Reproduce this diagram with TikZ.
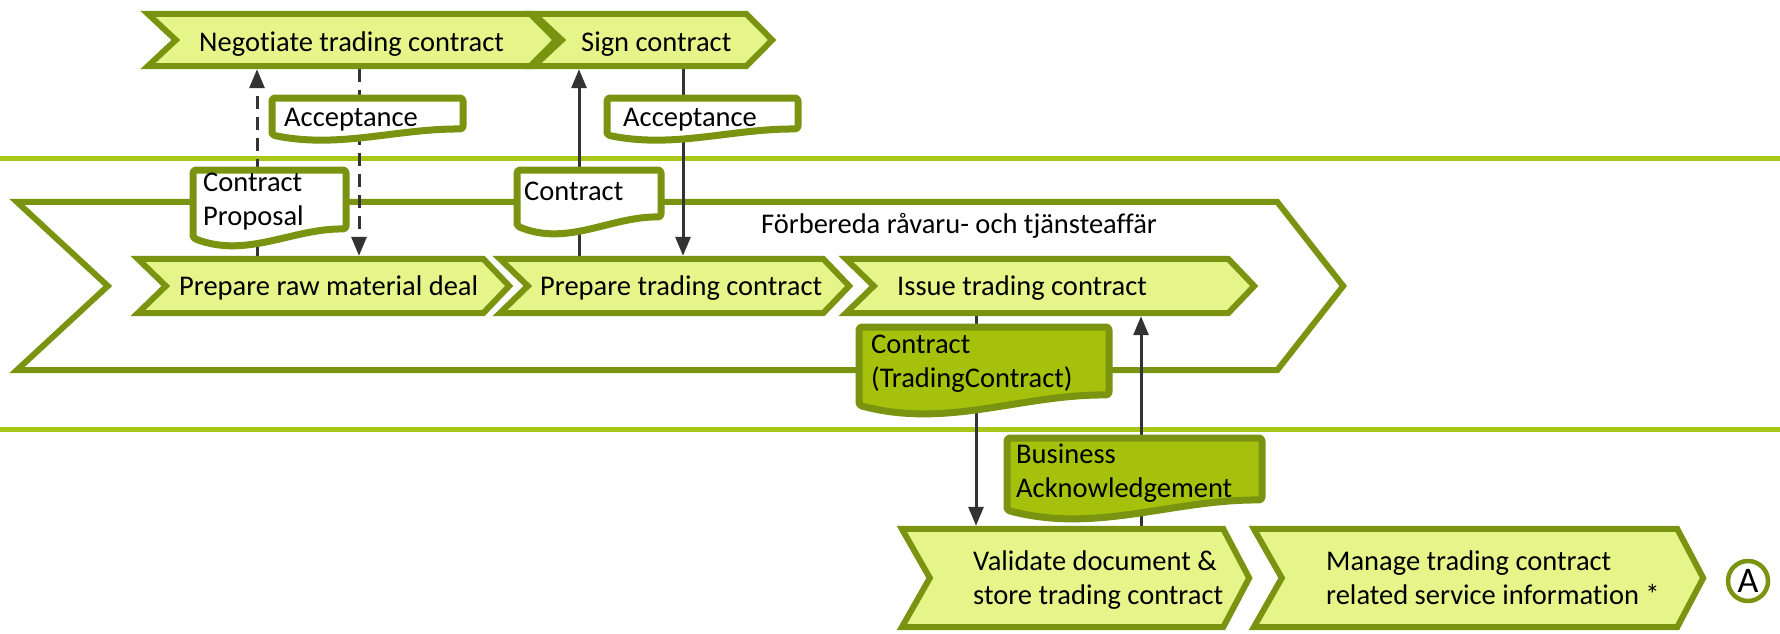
\documentclass[tikz,border=0pt]{standalone}
\usepackage{fontspec}
\setmainfont{Carlito}[Ligatures=NoCommon]
\usetikzlibrary{arrows.meta,calc}
\pgfdeclarelayer{back}
\pgfdeclarelayer{arrowlayer}
\pgfdeclarelayer{shapes}
\pgfsetlayers{back,arrowlayer,shapes,main}
\definecolor{chevfill}{HTML}{E6F58A}
\definecolor{olive}{HTML}{7A9412}
\definecolor{laneline}{HTML}{A9C716}
\definecolor{docdark}{HTML}{A5C10B}
\definecolor{arrowgray}{HTML}{333333}
\tikzset{
 box/.style={draw=none, inner sep=0pt, rectangle},
 lbl/.style={inner sep=0pt, align=left, font=\fontsize{28.5}{34}\selectfont},
 chevline/.style={draw=olive, fill=chevfill, line width=6pt, line join=miter},
 bigchev/.style={chevline, fill=white},
 docline/.style={draw=olive, line width=7pt, rounded corners=3pt, line join=round},
 lane/.style={draw=laneline, line width=5pt},
 flow/.style={draw=arrowgray, line width=3pt, shorten >=3pt, shorten <=3pt, -{Triangle[length=19pt,width=15pt]}},
 flowdash/.style={flow, dash pattern=on 13pt off 8pt},
}
\newcommand\chevpath[4]{%
 \path[#4] (#1.north west) -- ([xshift=-#3 pt]#1.north east) -- (#1.east) -- ([xshift=-#3 pt]#1.south east) -- (#1.south west) -- ([xshift=#2 pt]#1.west) -- cycle;}
% x1 y1 x2 y2 depth fill
\newcommand\docshape[6]{%
 \path[docline, fill=#6] (#1,{#4-0.4*#5}) -- (#1,#2) -- (#3,#2) -- (#3,{#4-#5})
  .. controls ({#3-0.35*(#3-#1)},{#4-1.05*#5}) and ({#1+0.35*(#3-#1)},{#4+1.0*#5}) .. (#1,{#4-0.4*#5}) -- cycle;}
\begin{document}
\begin{tikzpicture}[x=1pt,y=-1pt]
\useasboundingbox (0,0) rectangle (1780,634);
% boxes
\node[box, minimum width=408pt, minimum height=52pt] (neg) at (352,40) {};
\node[box, minimum width=238pt, minimum height=52pt] (sign) at (653,40) {};
\node[box, minimum width=1326pt, minimum height=168pt] (big) at (680,286) {};
\node[box, minimum width=371pt, minimum height=54pt] (prd) at (323.5,286) {};
\node[box, minimum width=349pt, minimum height=54pt] (ptc) at (674.5,286) {};
\node[box, minimum width=408pt, minimum height=54pt] (itc) at (1050,286) {};
\node[box, minimum width=347pt, minimum height=98pt] (vds) at (1075.5,578) {};
\node[box, minimum width=449pt, minimum height=98pt] (mtc) at (1478.5,578) {};
% arrow x positions
\coordinate (xa) at (257,0);
\coordinate (xb) at (359,0);
\coordinate (xc) at (579,0);
\coordinate (xd) at (683,0);
\coordinate (xe) at (976,0);
\coordinate (xf) at (1141,0);
% texts
\node[lbl, anchor=base west] (tneg) at (199,52) {Negotiate trading contract};
\node[lbl, anchor=base west] (tsign) at (581,52) {Sign contract};
\node[lbl, anchor=base] (tbig) at (959,233) {Förbereda råvaru- och tjänsteaffär};
\node[lbl, anchor=base west] (tprd) at (179,295) {Prepare raw material deal};
\node[lbl, anchor=base west] (tptc) at (540,295) {Prepare trading contract};
\node[lbl, anchor=base west] (titc) at (897,295) {Issue trading contract};
\node[lbl, anchor=north west] (tvds) at (973,551) {Validate document \&\\store trading contract};
\node[lbl, anchor=north west] (tmtc) at (1326,551) {Manage trading contract\\related service information *};
\node[lbl, anchor=base west] (dacc1) at (284,126) {Acceptance};
\node[lbl, anchor=base west] (dacc2) at (623,126) {Acceptance};
\node[lbl, anchor=north west] (dcp) at (203,173) {Contract\\Proposal};
\node[lbl, anchor=base west] (dcon) at (524,200) {Contract};
\node[lbl, anchor=north west] (dct) at (871,335) {Contract\\(TradingContract)};
\node[lbl, anchor=north west] (dba) at (1016,444) {Business\\Acknowledgement};
\node[circle, draw=olive, line width=4.5pt, fill=white, minimum size=40pt, inner sep=0pt, font=\fontsize{36}{36}\selectfont] (endA) at (1748,581) {A};
% background
\begin{pgfonlayer}{back}
\draw[lane] (0,158) -- (1780,158);
\draw[lane] (0,429) -- (1780,429);
\chevpath{big}{91}{66}{bigchev}
\end{pgfonlayer}
% shapes
\begin{pgfonlayer}{shapes}
\chevpath{neg}{28}{26}{chevline}
\chevpath{sign}{28}{26}{chevline}
\chevpath{prd}{28}{26}{chevline}
\chevpath{ptc}{28}{26}{chevline}
\chevpath{itc}{28}{26}{chevline}
\chevpath{vds}{28}{26}{chevline}
\chevpath{mtc}{28}{26}{chevline}
\docshape{272}{98}{463}{139}{10}{white}
\docshape{607}{98}{798}{139}{10}{white}
\docshape{193}{170}{346}{244}{15}{white}
\docshape{517}{170}{661}{232}{15}{white}
\docshape{859}{327}{1109}{412}{17}{docdark}
\docshape{1007}{438}{1262}{517}{17}{docdark}
\end{pgfonlayer}
% arrows
\begin{pgfonlayer}{arrowlayer}
\draw[flowdash] (prd.north -| xa) -- (neg.south -| xa);
\draw[flowdash] (neg.south -| xb) -- (prd.north -| xb);
\draw[flow] (ptc.north -| xc) -- (sign.south -| xc);
\draw[flow] (sign.south -| xd) -- (ptc.north -| xd);
\draw[flow] (itc.south -| xe) -- (vds.north -| xe);
\draw[flow] (vds.north -| xf) -- (itc.south -| xf);
\end{pgfonlayer}
\end{tikzpicture}
\end{document}
